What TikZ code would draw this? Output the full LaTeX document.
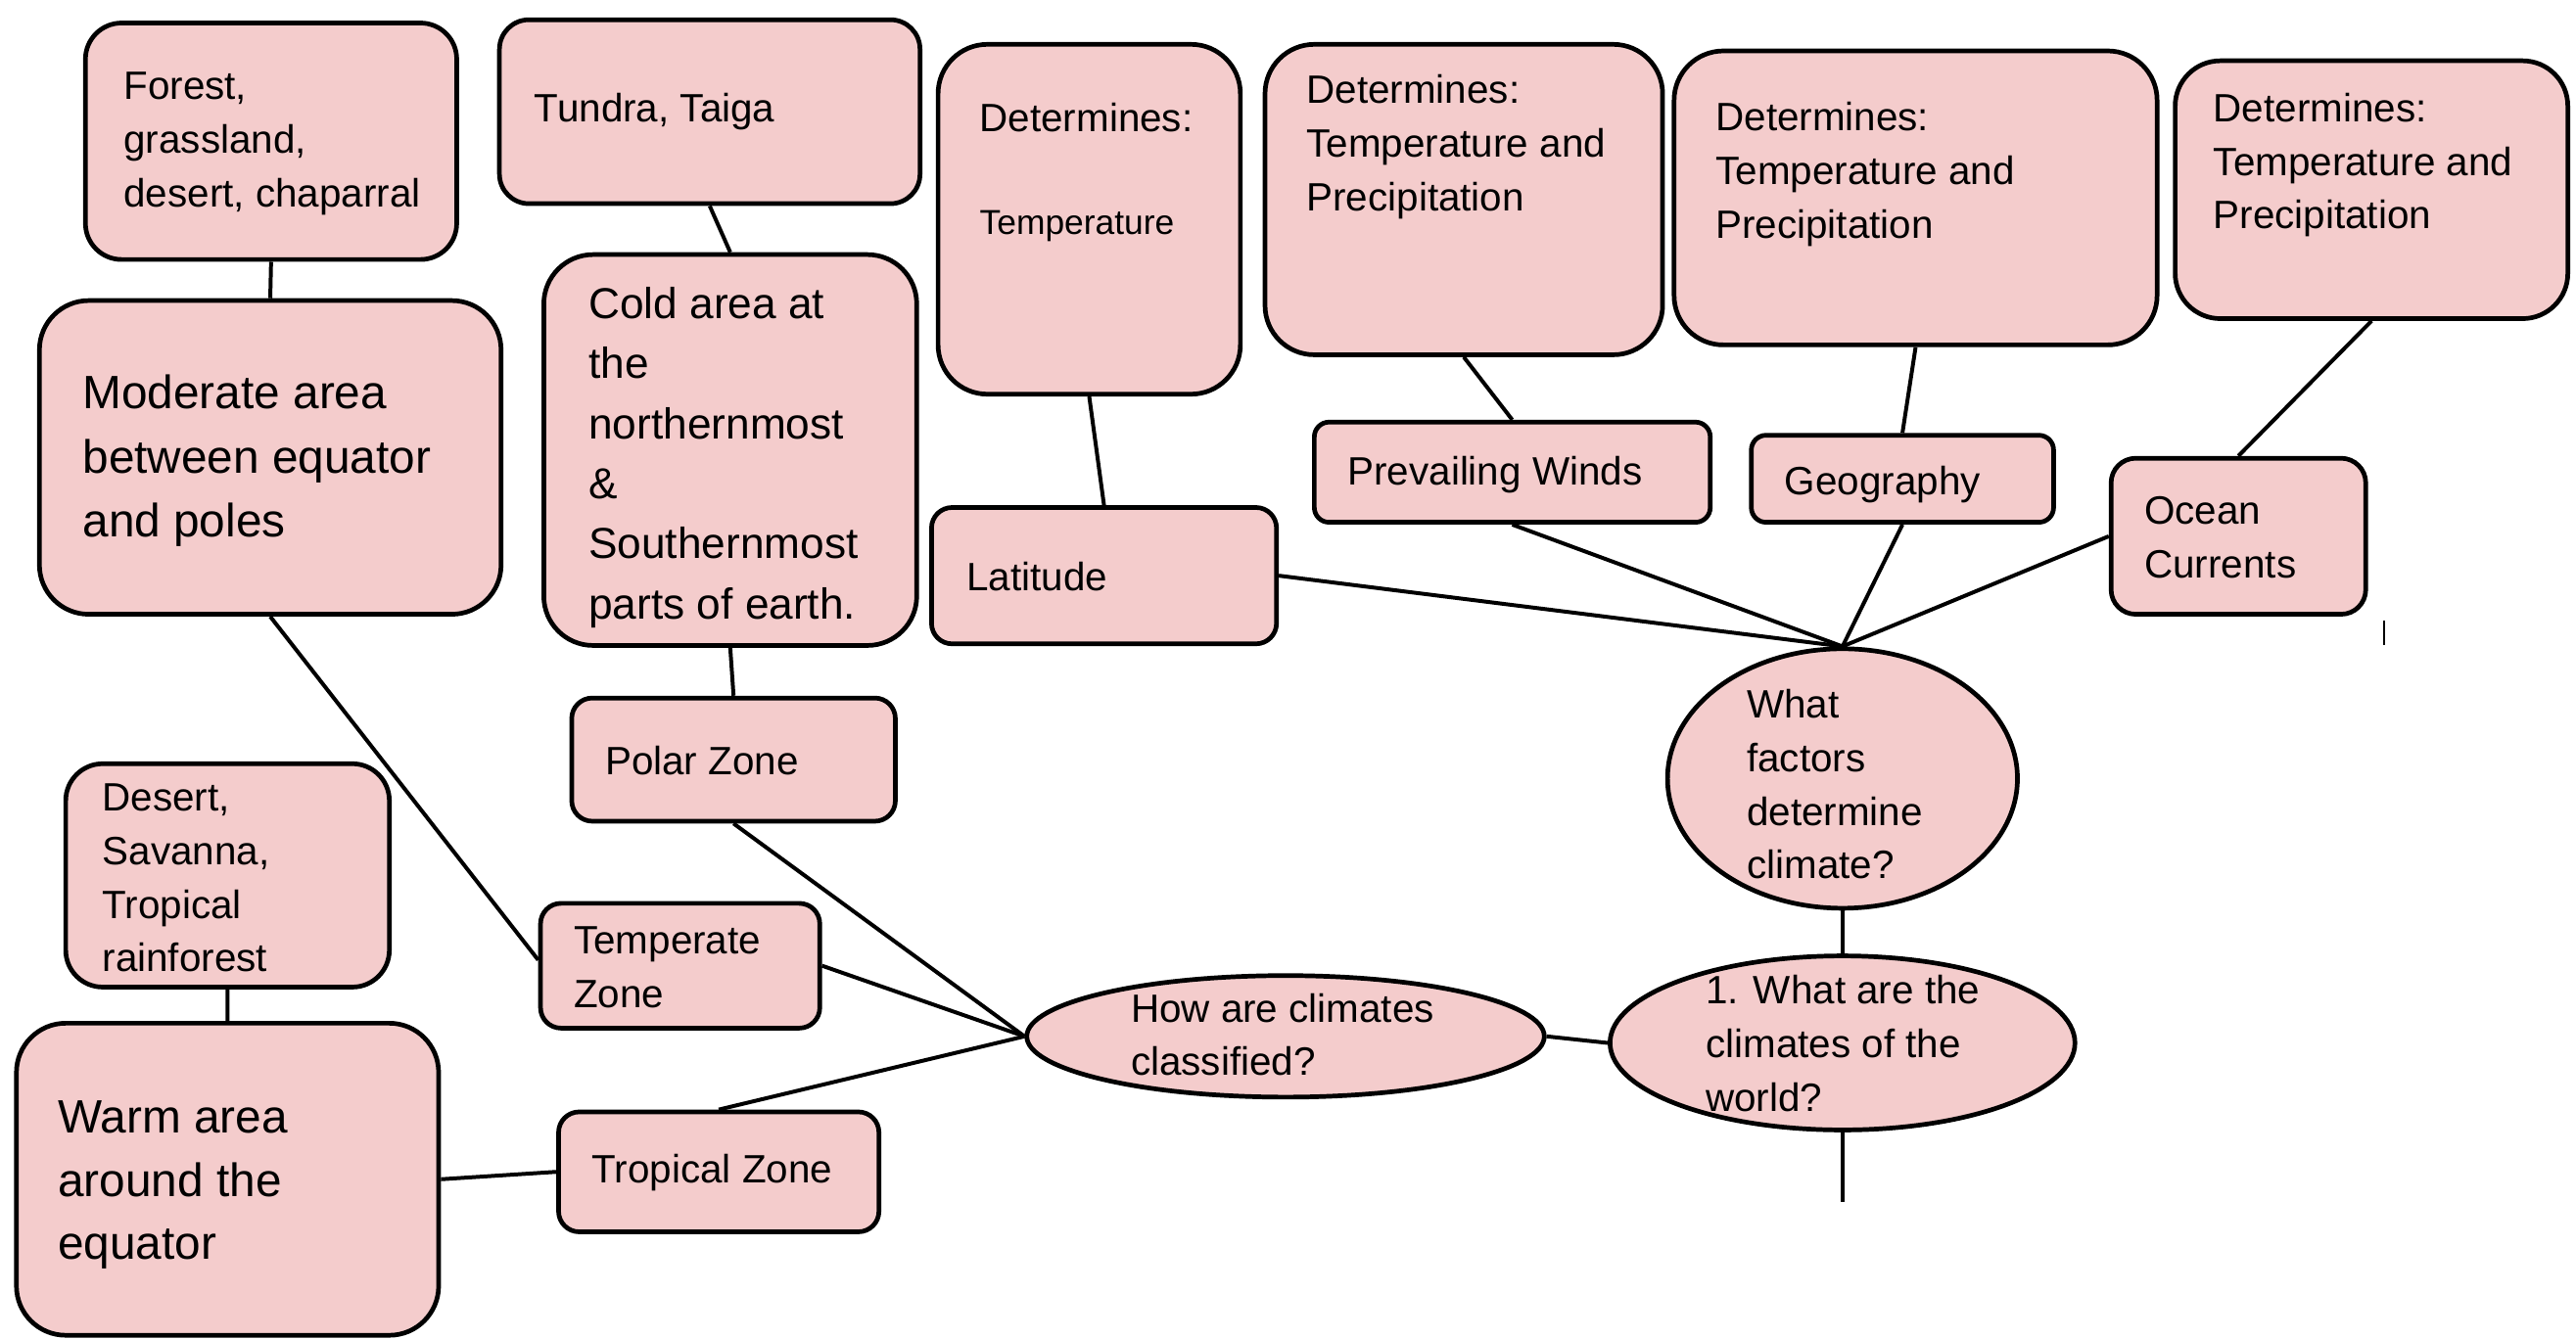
\documentclass[tikz,border=0pt]{standalone}
\usepackage{fontspec}
\setmainfont{Liberation Sans}
\usetikzlibrary{shapes.geometric,fit}
\definecolor{boxpink}{HTML}{F4CCCC}
\newcommand{\mapfont}{\fontsize{13.7}{18.6}\selectfont}
\newcommand{\bigmapfont}{\fontsize{16.2}{22.2}\selectfont}
\newcommand{\coldfont}{\fontsize{15}{20.8}\selectfont}
\tikzset{
  box/.style={draw, fill=boxpink, line width=1.6pt, inner sep=0pt, rounded corners=#1},
  box/.default=0.25cm,
  oval/.style={ellipse, draw, fill=boxpink, line width=1.6pt, inner sep=0pt},
  txt/.style={inner sep=0pt, align=left, anchor=west, font=\mapfont},
  link/.style={line width=1.35pt}
}
\begin{document}
\begin{tikzpicture}
\useasboundingbox (0,0) rectangle (31.36,-16.3);
% boxes
\node[box=0.44cm, fit={(1.04,-0.28) (5.56,-3.16)}] (forest) {};
\node[box=0.36cm, fit={(6.08,-0.24) (11.20,-2.48)}] (tundra) {};
\node[box=0.6cm, fit={(11.42,-0.54) (15.10,-4.80)}] (dettemp) {};
\node[box=0.6cm, fit={(15.40,-0.54) (20.24,-4.32)}] (detwind) {};
\node[box=0.6cm, fit={(20.38,-0.62) (26.26,-4.20)}] (detgeo) {};
\node[box=0.55cm, fit={(26.48,-0.74) (31.26,-3.88)}] (detocean) {};
\node[box=0.6cm, fit={(0.48,-3.66) (6.10,-7.48)}] (moderate) {};
\node[box=0.6cm, fit={(6.62,-3.10) (11.16,-7.86)}] (cold) {};
\node[box, fit={(11.34,-6.18) (15.54,-7.84)}] (latitude) {};
\node[box=0.18cm, fit={(16.00,-5.14) (20.82,-6.36)}] (winds) {};
\node[box=0.18cm, fit={(21.32,-5.30) (25.00,-6.36)}] (geography) {};
\node[box=0.3cm, fit={(25.70,-5.58) (28.80,-7.48)}] (ocean) {};
\node[box, fit={(6.96,-8.50) (10.90,-10.00)}] (polar) {};
\node[box=0.45cm, fit={(0.80,-9.30) (4.74,-12.02)}] (desert) {};
\node[box, fit={(6.58,-11.00) (9.98,-12.52)}] (temperate) {};
\node[box=0.6cm, fit={(0.20,-12.46) (5.34,-16.26)}] (warm) {};
\node[box, fit={(6.80,-13.54) (10.70,-15.00)}] (tropical) {};
\node[oval, minimum width=6.30cm, minimum height=1.48cm] (classified) at (15.65,-12.62) {};
\node[oval, minimum width=5.66cm, minimum height=2.12cm] (climates) at (22.43,-12.70) {};
\node[oval, minimum width=4.26cm, minimum height=3.16cm] (factors) at (22.43,-9.48) {};
\coordinate (down) at (22.43,-14.64);

% texts
\node[txt] (forestt) at (1.50,-1.75) {Forest,\\grassland,\\desert, chaparral};
\node[txt] (tundrat) at (6.50,-1.36) {Tundra, Taiga};
\node[txt] (dettempt) at (11.92,-2.10) {Determines:\\[17pt]{\fontsize{12}{18.6}\selectfont Temperature}};
\node[txt] (detwindt) at (15.90,-1.79) {Determines:\\Temperature and\\Precipitation};
\node[txt] (detgeot) at (20.88,-2.12) {Determines:\\Temperature and\\Precipitation};
\node[txt] (detoceant) at (26.94,-2.01) {Determines:\\Temperature and\\Precipitation};
\node[txt, font=\bigmapfont] (moderatet) at (1.00,-5.61) {Moderate area\\between equator\\and poles};
\node[txt, font=\coldfont] (coldt) at (7.16,-5.57) {Cold area at\\the\\northernmost\\\&\\Southernmost\\parts of earth.};
\node[txt] (latitudet) at (11.76,-7.02) {Latitude};
\node[txt] (windst) at (16.40,-5.78) {Prevailing Winds};
\node[txt] (geographyt) at (21.72,-5.90) {Geography};
\node[txt] (oceant) at (26.10,-6.54) {Ocean\\Currents};
\node[txt] (polart) at (7.36,-9.26) {Polar Zone};
\node[txt] (desertt) at (1.24,-10.69) {Desert,\\Savanna,\\Tropical\\rainforest};
\node[txt] (temperatet) at (6.98,-11.78) {Temperate\\Zone};
\node[txt, font=\fontsize{16.2}{21.9}\selectfont] (warmt) at (0.70,-14.43) {Warm area\\around the\\equator};
\node[txt] (tropicalt) at (7.20,-14.28) {Tropical Zone};
\node[txt] (classifiedt) at (13.76,-12.60) {How are climates\\classified?};
\node[txt] (climatest) at (20.76,-12.71) {1. What are the\\climates of the\\world?};
\node[txt] (factorst) at (21.26,-9.55) {What\\factors\\determine\\climate?};

% links
\draw[link] (forest.south) -- (moderate.north);
\draw[link] (tundra.south) -- (cold.north);
\draw[link] (cold.south) -- (polar.north);
\draw[link] (desert.south) -- (warm.north);
\draw[link] (warm.east) -- (tropical.west);
\draw[link] (moderate.south) -- ([yshift=2pt]temperate.west);
\draw[link] (classified.west) -- (polar.south);
\draw[link] (classified.west) -- (temperate.east);
\draw[link] (classified.west) -- (tropical.north);
\draw[link] (climates.west) -- (classified.east);
\draw[link] (climates.north) -- (factors.south);
\draw[link] (climates.south) -- (down);
\draw[link] (dettemp.south) -- (latitude.north);
\draw[link] (detwind.south) -- (winds.north);
\draw[link] (detgeo.south) -- (geography.north);
\draw[link] (detocean.south) -- (ocean.north);
\draw[link] (latitude.east) -- (factors.north);
\draw[link] (winds.south) -- (factors.north);
\draw[link] (geography.south) -- (factors.north);
\draw[link] (ocean.west) -- (factors.north);
\draw[line width=0.6pt] (29.02,-7.56) -- (29.02,-7.86);
\end{tikzpicture}
\end{document}
